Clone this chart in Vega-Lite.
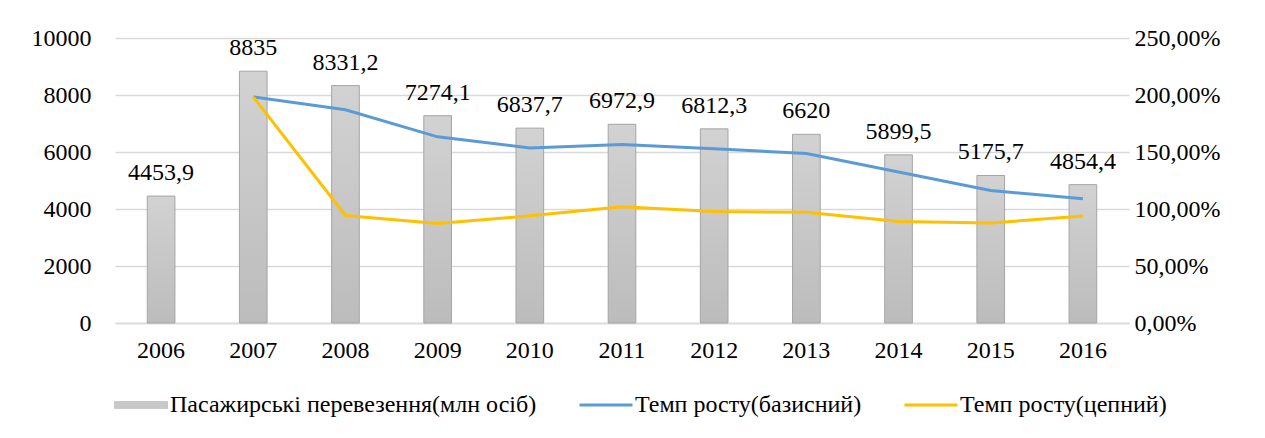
{
  "$schema": "https://vega.github.io/schema/vega-lite/v6.json",
  "width": 1014,
  "height": 285,
  "autosize": {"type": "none"},
  "padding": {"left": 115, "top": 38, "right": 136, "bottom": 115},
  "background": "white",
  "config": {
    "locale": {"number": {"decimal": ",", "thousands": "", "grouping": [3], "currency": ["", ""]}},
    "font": "Liberation Serif",
    "view": {"stroke": null},
    "axis": {"labelFont": "Liberation Serif", "labelFontSize": 24, "labelColor": "#000000", "ticks": false, "tickSize": 0, "domain": false, "title": null},
    "legend": {"labelFont": "Liberation Serif", "labelFontSize": 24, "labelColor": "#000000"}
  },
  "datasets": {
    "bars": [
      {"year": "2006", "value": 4453.9},
      {"year": "2007", "value": 8835},
      {"year": "2008", "value": 8331.2},
      {"year": "2009", "value": 7274.1},
      {"year": "2010", "value": 6837.7},
      {"year": "2011", "value": 6972.9},
      {"year": "2012", "value": 6812.3},
      {"year": "2013", "value": 6620},
      {"year": "2014", "value": 5899.5},
      {"year": "2015", "value": 5175.7},
      {"year": "2016", "value": 4854.4}
    ],
    "lines": [
      {"year": "2007", "series": "Темп росту(базисний)", "rate": 1.9836},
      {"year": "2008", "series": "Темп росту(базисний)", "rate": 1.8706},
      {"year": "2009", "series": "Темп росту(базисний)", "rate": 1.6332},
      {"year": "2010", "series": "Темп росту(базисний)", "rate": 1.5352},
      {"year": "2011", "series": "Темп росту(базисний)", "rate": 1.5656},
      {"year": "2012", "series": "Темп росту(базисний)", "rate": 1.5295},
      {"year": "2013", "series": "Темп росту(базисний)", "rate": 1.4863},
      {"year": "2014", "series": "Темп росту(базисний)", "rate": 1.3246},
      {"year": "2015", "series": "Темп росту(базисний)", "rate": 1.1621},
      {"year": "2016", "series": "Темп росту(базисний)", "rate": 1.0899},
      {"year": "2007", "series": "Темп росту(цепний)", "rate": 1.9836},
      {"year": "2008", "series": "Темп росту(цепний)", "rate": 0.9430},
      {"year": "2009", "series": "Темп росту(цепний)", "rate": 0.8731},
      {"year": "2010", "series": "Темп росту(цепний)", "rate": 0.9400},
      {"year": "2011", "series": "Темп росту(цепний)", "rate": 1.0198},
      {"year": "2012", "series": "Темп росту(цепний)", "rate": 0.9770},
      {"year": "2013", "series": "Темп росту(цепний)", "rate": 0.9717},
      {"year": "2014", "series": "Темп росту(цепний)", "rate": 0.8912},
      {"year": "2015", "series": "Темп росту(цепний)", "rate": 0.8773},
      {"year": "2016", "series": "Темп росту(цепний)", "rate": 0.9379}
    ]
  },
  "encoding": {
    "x": {
      "field": "year", "type": "ordinal",
      "scale": {"paddingInner": 0.7, "paddingOuter": 0.35},
      "axis": {"labelAngle": 0, "labelPadding": 15, "domain": true, "domainColor": "#d9d9d9", "domainWidth": 1.5}
    }
  },
  "layer": [
    {
      "data": {"name": "bars"},
      "encoding": {
        "y": {
          "field": "value", "type": "quantitative",
          "scale": {"domain": [0, 10000], "nice": false},
          "axis": {"values": [0, 2000, 4000, 6000, 8000, 10000], "format": "d", "orient": "left", "labelPadding": 24, "grid": true, "gridColor": "#d9d9d9", "gridWidth": 1.5}
        }
      },
      "layer": [
        {
          "mark": {
            "type": "bar",
            "stroke": "#a5a5a5",
            "strokeWidth": 1,
            "fill": {"gradient": "linear", "x1": 0, "y1": 0, "x2": 0, "y2": 1, "stops": [{"offset": 0, "color": "#d2d2d2"}, {"offset": 1, "color": "#bcbcbc"}]}
          }
        },
        {
          "mark": {"type": "text", "baseline": "alphabetic", "dy": -16, "fontSize": 24, "font": "Liberation Serif", "color": "#000000"},
          "encoding": {"text": {"field": "value", "type": "quantitative", "format": ".1~f"}}
        }
      ]
    },
    {
      "data": {"name": "lines"},
      "mark": {"type": "line", "strokeWidth": 3},
      "encoding": {
        "y": {
          "field": "rate", "type": "quantitative",
          "scale": {"domain": [0, 2.5], "nice": false},
          "axis": {"values": [0, 0.5, 1, 1.5, 2, 2.5], "format": ".2%", "orient": "right", "labelPadding": 5, "grid": false}
        },
        "color": {
          "field": "series", "type": "nominal",
          "scale": {
            "domain": ["Пасажирські перевезення(млн осіб)", "Темп росту(базисний)", "Темп росту(цепний)"],
            "range": ["#c8c8c8", "#5b9bd5", "#ffc000"]
          },
          "legend": {
            "orient": "none",
            "legendX": 14,
            "legendY": 355,
            "direction": "horizontal",
            "title": null,
            "labelLimit": 600,
            "columnPadding": 36,
            "labelOffset": 17,
            "symbolSize": 2809,
            "encode": {
              "symbols": {
                "update": {
                  "shape": {"signal": "datum.value == 'Пасажирські перевезення(млн осіб)' ? 'M-1,-0.13L1,-0.13L1,0.13L-1,0.13Z' : 'M-1,0L1,0'"},
                  "fill": {"signal": "datum.value == 'Пасажирські перевезення(млн осіб)' ? '#c8c8c8' : 'transparent'"},
                  "stroke": {"signal": "datum.value == 'Пасажирські перевезення(млн осіб)' ? '#a5a5a5' : (datum.value == 'Темп росту(базисний)' ? '#5b9bd5' : '#ffc000')"},
                  "strokeWidth": {"signal": "datum.value == 'Пасажирські перевезення(млн осіб)' ? 1 : 3"},
                  "opacity": {"value": 1}
                }
              }
            }
          }
        }
      }
    }
  ],
  "resolve": {"scale": {"y": "independent"}}
}
